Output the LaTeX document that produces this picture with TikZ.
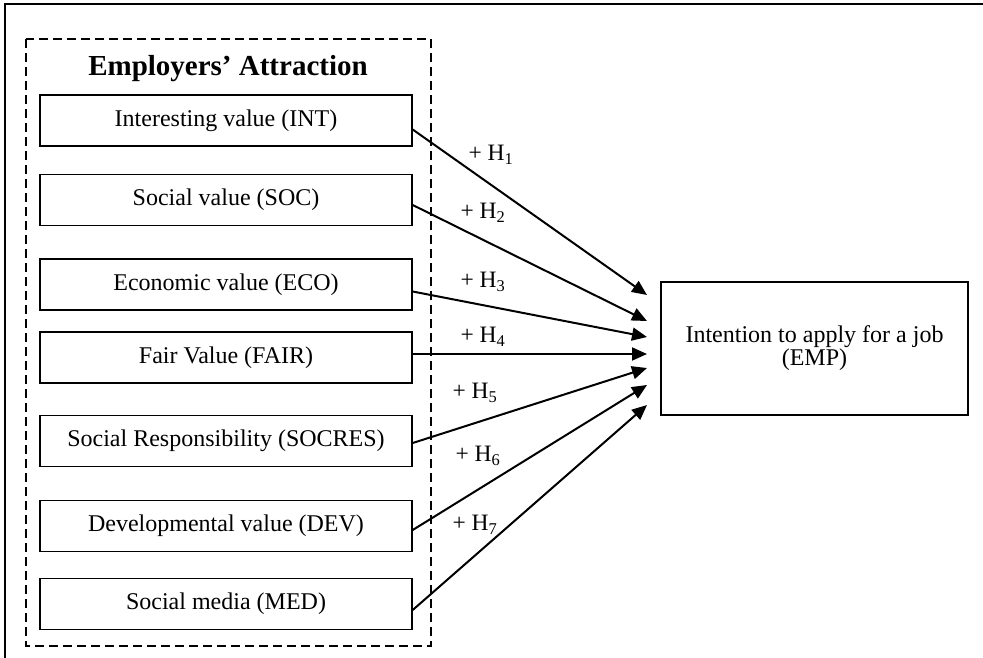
\documentclass[tikz,border=0pt]{standalone}
\usepackage{fontspec}
\setmainfont{Liberation Serif}
\usetikzlibrary{calc,arrows.meta}

\begin{document}
\begin{tikzpicture}[x=1pt, y=-1pt]
    % value boxes on the left
    \tikzstyle{val}=[draw, line width=1.4pt, minimum width=372pt, minimum height=51pt, inner sep=0, font=\fontsize{24}{27}\selectfont]
    % hypothesis labels
    \tikzstyle{hyp}=[inner sep=0, font=\fontsize{23.5}{26}\selectfont]
    \tikzstyle{arr}=[line width=2pt, -{Triangle[length=15pt, width=13pt]}]
    \useasboundingbox (0,0) rectangle (983,657);
    \draw[line width=2.2pt] (5,660) -- (5,4) -- (986,4);
    \draw[line width=1.4pt, dash pattern=on 9pt off 5pt] (26,39) rectangle (431,646);
    \node[inner sep=0, font=\fontsize{29}{32}\selectfont\bfseries] (TITLE) at (228,69) {Employers' Attraction};
    \node[val] (INT) at (226,120.5) {Interesting value (INT)};
    \node[val] (SOC) at (226,200) {Social value (SOC)};
    \node[val] (ECO) at (226,284.5) {Economic value (ECO)};
    \node[val] (FAIR) at (226,357.5) {Fair Value (FAIR)};
    \node[val] (SOCRES) at (226,441) {Social Responsibility (SOCRES)};
    \node[val] (DEV) at (226,526) {Developmental value (DEV)};
    \node[val] (MED) at (226,604) {Social media (MED)};
    \node[draw, line width=1.4pt, minimum width=307pt, minimum height=133pt, align=center, font=\fontsize{24}{23}\selectfont] (EMP) at (814.5,348.5) {Intention to apply for a job\\(EMP)};
    % arrow ends in front of EMP
    \coordinate (T1) at (647,295);
    \coordinate (T2) at (647,321);
    \coordinate (T3) at (647,337);
    \coordinate (T4) at (647,354);
    \coordinate (T5) at (647,368);
    \coordinate (T6) at (647,385);
    \coordinate (T7) at (647,405);
    \draw[arr] ($(INT.east)+(0,9)$) -- (T1);
    \draw[arr] ($(SOC.east)+(0,5)$) -- (T2);
    \draw[arr] ($(ECO.east)+(0,7)$) -- (T3);
    \draw[arr] ($(FAIR.east)+(0,-3.5)$) -- (T4);
    \draw[arr] ($(SOCRES.east)+(0,2)$) -- (T5);
    \draw[arr] ($(DEV.east)+(0,4)$) -- (T6);
    \draw[arr] ($(MED.east)+(0,6)$) -- (T7);
    \node[hyp] (H1) at (491,155) {+ H\textsubscript{1}};
    \node[hyp] (H2) at (483,213) {+ H\textsubscript{2}};
    \node[hyp] (H3) at (483,282) {+ H\textsubscript{3}};
    \node[hyp] (H4) at (483,337) {+ H\textsubscript{4}};
    \node[hyp] (H5) at (475,393) {+ H\textsubscript{5}};
    \node[hyp] (H6) at (478,456) {+ H\textsubscript{6}};
    \node[hyp] (H7) at (475,525) {+ H\textsubscript{7}};
\end{tikzpicture}
\end{document}
